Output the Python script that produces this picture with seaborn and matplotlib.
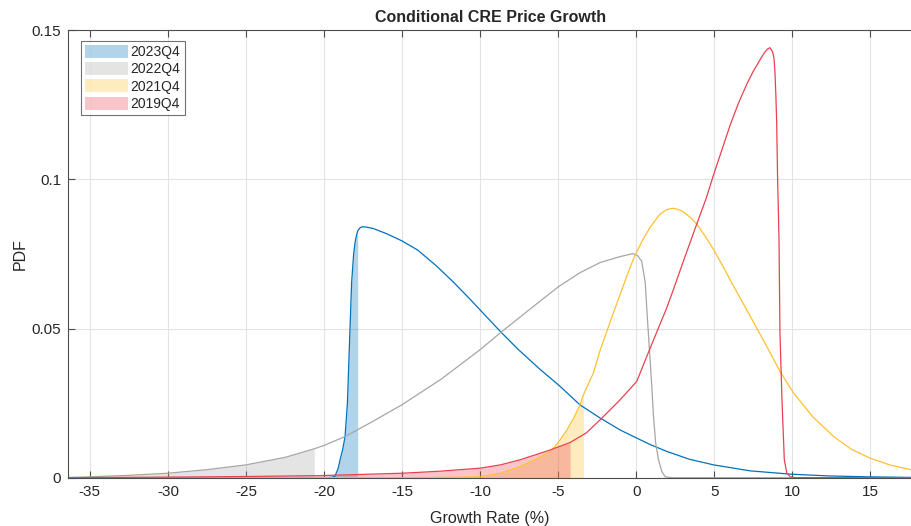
import matplotlib
matplotlib.use("Agg")
import matplotlib.pyplot as plt
import numpy as np
import pandas as pd
import seaborn as sns

# values (growth rate %, pdf)
x_2023 = [-36.38, -20.0, -19.5, -19.3, -19.1, -18.97, -18.8, -18.65, -18.5, -18.38, -18.23,
          -18.1, -18.01, -17.92, -17.84, -17.7, -17.6, -17.48, -17.2, -16.84, -16.0, -15.02,
          -14.0, -12.78, -11.7, -10.64, -9.6, -8.72, -7.54, -6.2, -4.87, -3.6, -2.31, -1.03,
          -0.17, 0.9, 1.97, 3.4, 4.96, 7.3, 9.87, 12.3, 14.8, 17.67]
y_2023 = [0.0, 0.0, 0.0001, 0.0005, 0.003, 0.006, 0.0095, 0.0138, 0.025, 0.043, 0.0654,
          0.075, 0.0788, 0.0812, 0.0827, 0.0837, 0.084, 0.0841, 0.0839, 0.0835, 0.0818, 0.0794,
          0.0763, 0.0709, 0.0655, 0.0598, 0.054, 0.0491, 0.0429, 0.0365, 0.0306, 0.0244,
          0.02, 0.016, 0.0138, 0.0111, 0.0088, 0.0062, 0.0043, 0.0023, 0.0012, 0.0006,
          0.0003, 0.0001]

x_2022 = [-36.38, -35.0, -32.5, -30.0, -27.5, -25.0, -22.5, -20.62, -20.0, -18.65, -17.0,
          -15.02, -12.5, -10.0, -8.72, -6.8, -4.98, -3.6, -2.31, -1.03, -0.2, 0.07, 0.35,
          0.58, 0.71, 0.85, 1.0, 1.11, 1.25, 1.43, 1.65, 1.86, 2.3, 17.67]
y_2022 = [0.0001, 0.0003, 0.0008, 0.0015, 0.0027, 0.0043, 0.0068, 0.0097, 0.0108, 0.0138,
          0.0185, 0.0244, 0.033, 0.0429, 0.0485, 0.0565, 0.064, 0.0687, 0.0721, 0.0741,
          0.0751, 0.0745, 0.0726, 0.0654, 0.0541, 0.0429, 0.0306, 0.0205, 0.0116, 0.006,
          0.002, 0.0003, 0.0, 0.0]

x_2021 = [-36.38, -15.0, -12.0, -10.0, -8.7, -7.44, -6.5, -5.51, -5.0, -4.44, -4.0, -3.6,
          -3.38, -2.74, -2.31, -1.6, -1.03, -0.5, -0.08, 0.4, 0.88, 1.52, 1.95, 2.34, 2.7,
          3.02, 3.45, 3.88, 4.4, 4.94, 5.5, 6.01, 6.65, 7.31, 8.3, 9.23, 10.08, 11.3, 12.65,
          13.8, 15.0, 16.3, 17.67]
y_2021 = [0.0, 0.0, 0.0001, 0.0003, 0.0015, 0.0037, 0.006, 0.0087, 0.0118, 0.016, 0.02,
          0.0244, 0.0278, 0.0351, 0.0427, 0.0532, 0.0614, 0.069, 0.0745, 0.0795, 0.0838,
          0.0883, 0.0898, 0.0903, 0.0899, 0.0891, 0.0873, 0.085, 0.0811, 0.0766, 0.0714,
          0.0664, 0.0603, 0.0541, 0.0446, 0.0355, 0.0284, 0.0205, 0.0138, 0.0095, 0.0065,
          0.0042, 0.0026]

x_2019 = [-36.38, -30.0, -25.0, -20.26, -15.0, -12.5, -10.0, -8.7, -7.44, -6.5, -5.51, -4.23,
          -3.2, -2.31, -1.03, 0.04, 0.9, 1.95, 2.45, 3.02, 3.88, 4.47, 4.94, 5.5, 6.01, 6.55,
          7.08, 7.5, 7.93, 8.2, 8.4, 8.57, 8.74, 8.83, 8.89, 8.95, 9.0, 9.06, 9.15, 9.21,
          9.34, 9.49, 9.65, 9.87, 10.2, 17.67]
y_2019 = [0.0, 0.0002, 0.0004, 0.0007, 0.0015, 0.0022, 0.0032, 0.0043, 0.006, 0.0076, 0.0093,
          0.0118, 0.015, 0.0194, 0.0261, 0.0323, 0.0435, 0.0568, 0.064, 0.0725, 0.085,
          0.0934, 0.1012, 0.11, 0.118, 0.1255, 0.1318, 0.1362, 0.14, 0.1423, 0.1436,
          0.1441, 0.1427, 0.1405, 0.136, 0.128, 0.1192, 0.1001, 0.0799, 0.0486, 0.0261,
          0.006, 0.0015, 0.0003, 0.0, 0.0]

# left tail cut-offs of the shaded regions
cut_2023 = -17.84
cut_2022 = -20.62
cut_2021 = -3.38
cut_2019 = -4.23

labels = ["2023Q4", "2022Q4", "2021Q4", "2019Q4"]
line_colors = ["#0072BD", "#A6A6A6", "#FDC12E", "#E8424F"]

series = [(x_2023, y_2023, cut_2023), (x_2022, y_2022, cut_2022),
          (x_2021, y_2021, cut_2021), (x_2019, y_2019, cut_2019)]

df = pd.concat([pd.DataFrame({"x": s[0], "y": s[1], "q": lab}) for s, lab in zip(series, labels)])

sns.set_style("white")
plt.rcParams["font.family"] = ["Liberation Sans", "DejaVu Sans"]
plt.rcParams["axes.unicode_minus"] = False

fig = plt.figure(figsize=(9.12, 5.26), dpi=100)
ax = fig.add_axes([0.0749, 0.0918, 0.9251, 0.851])

sns.lineplot(data=df, x="x", y="y", hue="q", palette=dict(zip(labels, line_colors)),
             sort=False, estimator=None, lw=0.9, legend=False, ax=ax)

handles = []
for (xs, ys, cut), lab, col in zip(series, labels, line_colors):
    xs = np.array(xs)
    ys = np.array(ys)
    m = xs <= cut
    xf = np.append(xs[m], cut)
    yf = np.append(ys[m], np.interp(cut, xs, ys))
    h = ax.fill_between(xf, 0, yf, color=col, alpha=0.3, lw=0, label=lab)
    handles.append(h)

ax.set_xlim(-36.38, 17.67)
ax.set_ylim(0, 0.15)
ax.set_xticks(np.arange(-35, 16, 5))
ax.set_yticks([0, 0.05, 0.1, 0.15])
ax.set_yticklabels(["0", "0.05", "0.1", "0.15"])
ax.grid(True, color="#e3e3e3", lw=0.8)
ax.set_axisbelow(True)
ax.tick_params(direction="in", length=5, width=0.8, color="#4d4d4d", labelsize=11,
               labelcolor="#262626", top=True, bottom=True, left=True, right=False, pad=5)
for side in ["left", "bottom", "top"]:
    ax.spines[side].set_color("#4d4d4d")
    ax.spines[side].set_linewidth(0.8)
ax.spines["right"].set_visible(False)

ax.set_xlabel("Growth Rate (%)", fontsize=11.5, color="#262626", labelpad=9)
ax.set_ylabel("PDF", fontsize=11.5, color="#262626", labelpad=3)
ax.set_title("Conditional CRE Price Growth", fontsize=11.5, fontweight="bold", pad=6)

leg = ax.legend(handles=handles, loc="upper left", bbox_to_anchor=(0.0147, 0.976),
                fontsize=10, frameon=True, fancybox=False, handlelength=3.1,
                handleheight=1.05, borderpad=0.3, labelspacing=0.22, handletextpad=0.2,
                borderaxespad=0)
leg.get_frame().set_edgecolor("#4d4d4d")
leg.get_frame().set_linewidth(0.8)

fig.savefig("out.png", dpi=100)
